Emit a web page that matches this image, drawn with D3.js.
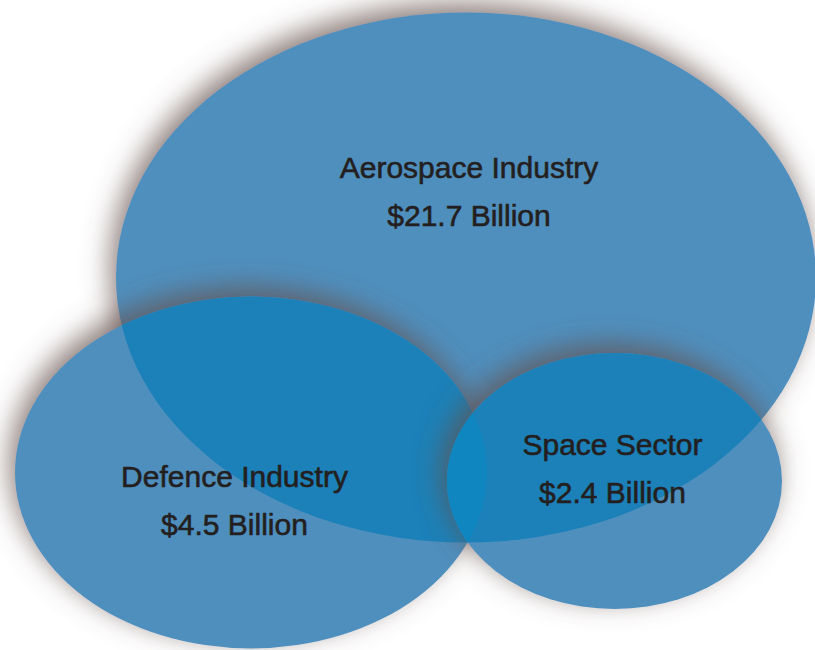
<!DOCTYPE html>
<html>
<head>
<meta charset="utf-8">
<script src="https://cdn.jsdelivr.net/npm/d3@7"></script>
<style>
  html, body { margin: 0; padding: 0; background: #ffffff; }
  svg { display: block; }
  text { font-family: "Liberation Sans", Arial, Helvetica, sans-serif; }
</style>
</head>
<body>
<div id="chart"></div>
<script>
// Sector names and annual revenues (billions of dollars)
const sectors = ["Aerospace Industry", "Defence Industry", "Space Sector"];
const valuesBillion = [21.7, 4.5, 2.4];
const keys = ["aero", "defence", "space"];

// Ellipse layout for the overlapping sector diagram
const layout = {
  aero:    { cx: 466, cy: 277.5, rx: 350, ry: 265, lx: 469, ly: 177.5 },
  defence: { cx: 251, cy: 472.5, rx: 236, ry: 176, lx: 234.5, ly: 486.5 },
  space:   { cx: 614.5, cy: 481, rx: 167.5, ry: 128, lx: 612.5, ly: 455 }
};

const W = 815, H = 650;
const fillSingle = "#4f8fbe";
const fillDouble = "#1b81b8";
const fillTriple = "#1086c0";

const data = keys.map((k, i) => ({ key: k, name: sectors[i], value: valuesBillion[i], ...layout[k] }));
const byKey = Object.fromEntries(data.map(d => [d.key, d]));
const fmt = d3.format(".1f");

const svg = d3.select("#chart").append("svg").attr("width", W).attr("height", H);
const defs = svg.append("defs");

// Soft brownish drop shadow cast up and to the left
const f = defs.append("filter").attr("id", "shadow")
  .attr("x", "-25%").attr("y", "-25%").attr("width", "150%").attr("height", "150%");
f.append("feGaussianBlur").attr("in", "SourceAlpha").attr("stdDeviation", 14).attr("result", "blur");
f.append("feOffset").attr("in", "blur").attr("dx", -5).attr("dy", -9).attr("result", "off");
f.append("feFlood").attr("flood-color", "#64504c").attr("flood-opacity", 0.75).attr("result", "col");
f.append("feComposite").attr("in", "col").attr("in2", "off").attr("operator", "in").attr("result", "sh");
const merge = f.append("feMerge");
merge.append("feMergeNode").attr("in", "sh");
merge.append("feMergeNode").attr("in", "SourceGraphic");

// Clip paths for each sector ellipse
data.forEach(d => {
  defs.append("clipPath").attr("id", "clip-" + d.key)
    .append("ellipse")
    .attr("cx", d.cx).attr("cy", d.cy).attr("rx", d.rx).attr("ry", d.ry);
});

function ellipse(parent, d, fill, filter) {
  const e = parent.append("ellipse")
    .attr("cx", d.cx).attr("cy", d.cy).attr("rx", d.rx).attr("ry", d.ry)
    .attr("fill", fill);
  if (filter) e.attr("filter", "url(#shadow)");
  return e;
}

const g = svg.append("g");
const A = byKey.aero, D = byKey.defence, S = byKey.space;

// Aerospace (largest) ellipse
ellipse(g, A, fillSingle, true);

// Defence ellipse and its overlap with aerospace
ellipse(g, D, fillSingle, true);
ellipse(g.append("g").attr("clip-path", "url(#clip-aero)"), D, fillDouble, false);

// Space ellipse and its overlaps
ellipse(g, S, fillSingle, true);
ellipse(g.append("g").attr("clip-path", "url(#clip-aero)"), S, fillDouble, false);
ellipse(g.append("g").attr("clip-path", "url(#clip-defence)"), S, fillDouble, false);
ellipse(
  g.append("g").attr("clip-path", "url(#clip-aero)")
   .append("g").attr("clip-path", "url(#clip-defence)"),
  S, fillTriple, false);

// Labels: sector name and revenue
const labels = svg.append("g").selectAll("g.label").data(data).join("g").attr("class", "label");
labels.append("text")
  .attr("x", d => d.lx).attr("y", d => d.ly)
  .attr("text-anchor", "middle")
  .attr("font-size", 30).attr("fill", "#231f20")
  .attr("stroke", "#231f20").attr("stroke-width", 0.6)
  .text(d => d.name);
labels.append("text")
  .attr("x", d => d.lx).attr("y", d => d.ly + 48)
  .attr("text-anchor", "middle")
  .attr("font-size", 30).attr("fill", "#231f20")
  .attr("stroke", "#231f20").attr("stroke-width", 0.6)
  .text(d => "$" + fmt(d.value) + " Billion");
</script>
</body>
</html>
